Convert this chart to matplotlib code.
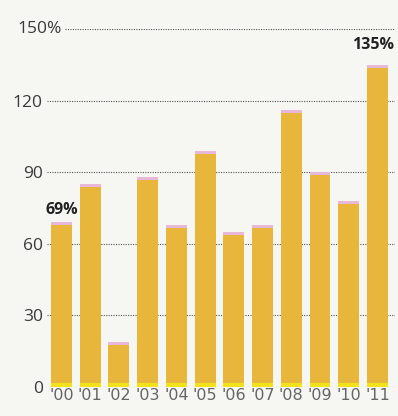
import matplotlib.pyplot as plt

years = ["'00", "'01", "'02", "'03", "'04", "'05", "'06", "'07", "'08", "'09", "'10", "'11"]
values = [69, 85, 19, 88, 68, 99, 65, 68, 116, 90, 78, 135]
yticks = [0, 30, 60, 90, 120, 150]
ytick_labels = ["0", "30", "60", "90", "120", ""]

bg = '#F6F6F3'
bar_color = '#E8B63A'

fig = plt.figure(figsize=(3.98, 4.16), dpi=100, facecolor=bg)
W, H = 398, 416
ax = fig.add_axes([47 / W, 29 / H, (395 - 47) / W, (387 - 29) / H], facecolor=bg)

x = list(range(len(years)))
ax.set_xlim(-0.5, 11.61)
ax.set_ylim(0, 150)

# dotted gridlines behind the bars
for t in yticks:
    xmin = 0.052 if t == 150 else 0.0
    ax.axhline(t, xmin=xmin, xmax=1, color='#555555', lw=0.8,
               ls=(0, (1, 1.2)), zorder=1)

ax.bar(x, values, width=0.73, color=bar_color, zorder=2)
# pink cap and yellow foot like the print
ax.bar(x, [1.2] * len(x), bottom=[v - 1.2 for v in values], width=0.73,
       color='#E8B8D8', zorder=3)
ax.bar(x, [1.5] * len(x), width=0.73, color='#F2E21A', zorder=3)

for s in ax.spines.values():
    s.set_visible(False)
ax.tick_params(length=0)
ax.set_yticks(yticks)
ax.set_yticklabels(ytick_labels, fontsize=12.5, color='#3a3a3a', family='Open Sans')
ax.tick_params(axis='y', pad=3)
ax.set_xticks(x)
ax.set_xticklabels(years, fontsize=11.5, color='#666666', family='Liberation Sans Narrow')
ax.tick_params(axis='x', pad=1)

# top label carries the unit, sticking out past the other labels
ax.annotate('150%', xy=(0, 150), xycoords=ax.get_yaxis_transform(),
            xytext=(11, 0), textcoords='offset points', fontsize=12.5,
            color='#3a3a3a', family='Open Sans', va='center', ha='right')

ax.text(0, values[0] + 2, '69%', ha='center', va='bottom', fontsize=11.5,
        fontweight='bold', color='#222222', family='Open Sans')
ax.text(10.85, values[11] + 5, '135%', ha='center', va='bottom', fontsize=11.5,
        fontweight='bold', color='#222222', family='Open Sans')

fig.savefig('out.png', dpi=100, facecolor=bg)
